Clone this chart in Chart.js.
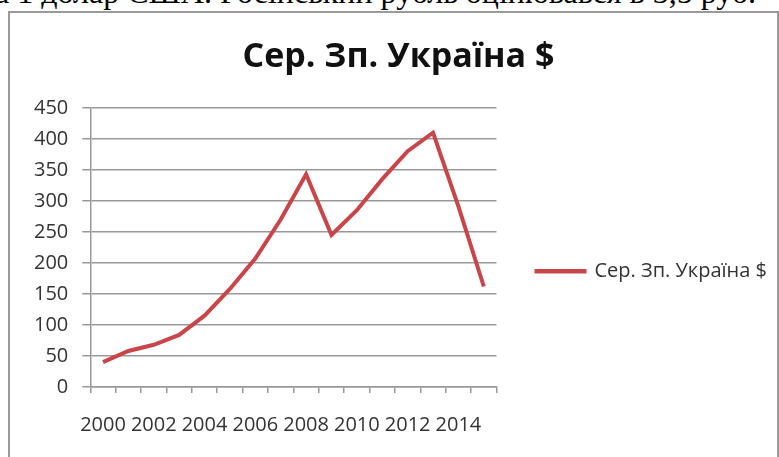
<!DOCTYPE html>
<html>
<head>
<meta charset="utf-8">
<script src="https://cdn.jsdelivr.net/npm/chart.js@4.4.1/dist/chart.umd.min.js"></script>
<style>
  body { margin: 0; background: #fff; overflow: hidden; width: 779px; height: 457px; position: relative; }
  #topText {
    position: absolute; left: -5px; top: -24px; white-space: nowrap;
    font-family: "Liberation Serif", "DejaVu Serif", serif; font-size: 32px; line-height: 32px; color: #000;
  }
  #frame {
    position: absolute; left: 8px; top: 11px; width: 767px; height: 460px;
    border: 2px solid #9a9a9a; border-bottom: none; background: #fff;
  }
  #box { position: absolute; left: 0; top: 0; width: 767px; height: 444px; }
</style>
</head>
<body>
<div id="topText">а 1 долар США. Російський рубль оцінювався в 3,5 руб.</div>
<div id="frame"><div id="box"><canvas id="chart1"></canvas></div></div>
<script>
var years = ['2000', '2001', '2002', '2003', '2004', '2005', '2006', '2007',
             '2008', '2009', '2010', '2011', '2012', '2013', '2014', '2015'];
var salaryUsd = [40, 58, 68, 84, 115, 158, 207, 270, 343, 245, 285, 335, 380, 410, 291, 162];
var yTicks = [0, 50, 100, 150, 200, 250, 300, 350, 400, 450];
var seriesName = 'Сер. Зп. Україна $';

var ctx1 = document.getElementById('chart1').getContext('2d');
var chart1 = new Chart(ctx1, {
    type: 'line',
    data: {
        labels: years,
        datasets: [{
            label: seriesName,
            data: salaryUsd,
            borderColor: '#c8464a',
            backgroundColor: '#c8464a',
            borderWidth: 4,
            pointRadius: 0,
            tension: 0,
            fill: false
        }]
    },
    options: {
        responsive: true,
        maintainAspectRatio: false,
        devicePixelRatio: 1,
        animation: false,
        layout: {
            padding: { left: 10, right: 0, top: 14, bottom: 0 }
        },
        plugins: {
            title: {
                display: true,
                text: seriesName,
                color: '#111',
                font: { family: 'Open Sans', size: 34, weight: 'bold' },
                padding: { top: 10, bottom: 30 }
            },
            legend: {
                position: 'right',
                maxWidth: 320,
                // empty legend title only pushes the entry down a bit
                title: { display: true, text: '', padding: { top: 0, bottom: 44 } },
                labels: {
                    color: '#333',
                    font: { family: 'Open Sans', size: 20 },
                    boxWidth: 48,
                    boxHeight: 0.5,
                    padding: 40
                }
            },
            tooltip: { enabled: false }
        },
        scales: {
            x: {
                offset: true,
                grid: {
                    offset: true,
                    drawOnChartArea: false,
                    drawTicks: true,
                    tickLength: 6,
                    color: '#999',
                    lineWidth: 1.5
                },
                border: { display: true, color: '#999', width: 1.5 },
                ticks: {
                    autoSkip: false,
                    maxRotation: 0,
                    minRotation: 0,
                    padding: 20,
                    color: '#333',
                    font: { family: 'Open Sans', size: 20 },
                    callback: function(val, i) {
                        return i % 2 === 0 ? years[i] : '';
                    }
                }
            },
            y: {
                min: yTicks[0],
                max: yTicks[yTicks.length - 1],
                afterBuildTicks: function(axis) {
                    axis.ticks = yTicks.map(function(v) { return { value: v }; });
                },
                grid: {
                    color: '#999',
                    lineWidth: 1.5,
                    drawTicks: true,
                    tickLength: 8
                },
                border: { display: true, color: '#999', width: 1.5 },
                ticks: {
                    padding: 14,
                    color: '#333',
                    font: { family: 'Open Sans', size: 20 }
                }
            }
        }
    }
});
</script>
</body>
</html>
